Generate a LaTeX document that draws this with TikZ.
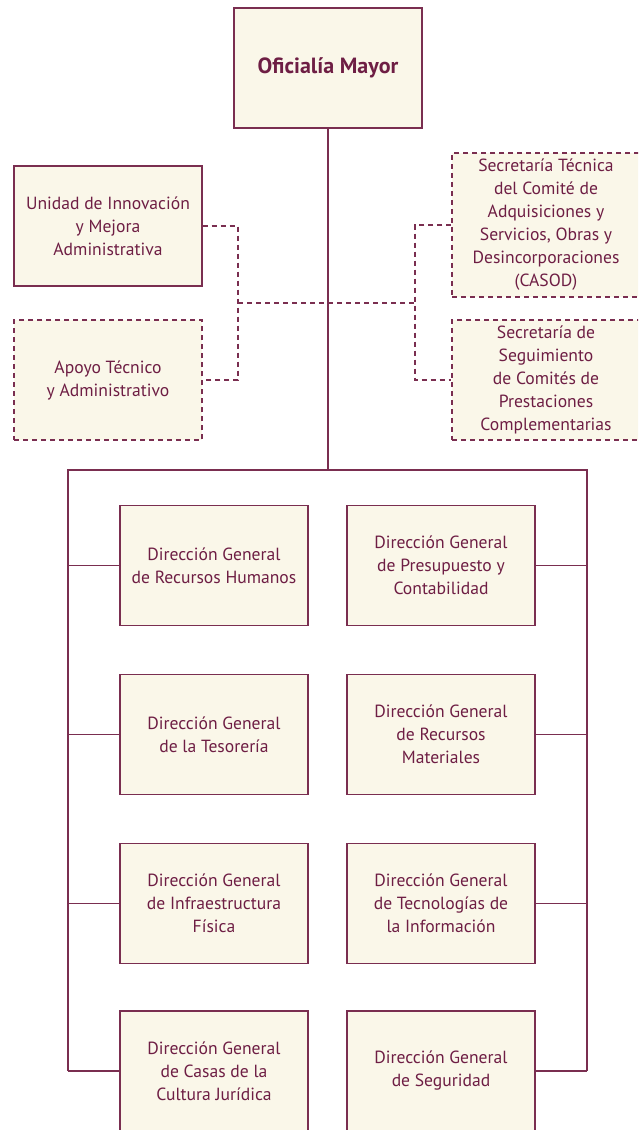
\documentclass[tikz,border=0pt]{standalone}
\usepackage{fontspec}
\setmainfont{PT Sans}
\definecolor{ink}{HTML}{6E1E44}
\definecolor{edge}{HTML}{7A2E50}
\definecolor{cream}{HTML}{FAF7E9}
\tikzset{
  unit/.style={draw=edge, line width=1.3pt, fill=cream, rectangle, minimum width=188pt, minimum height=120pt, text=ink, align=center, font=\fontsize{17.6}{23}\selectfont, inner sep=0pt},
  dunit/.style={unit, dash pattern=on 5pt off 4pt},
  link/.style={draw=edge, line width=1.2pt},
  dlink/.style={link, dash pattern=on 5pt off 4pt},
}
\begin{document}
\begin{tikzpicture}[x=1pt,y=-1pt]
\useasboundingbox (0,0) rectangle (638,1130);
\clip (0,0) rectangle (638,1130);
\node[unit, font=\fontsize{22}{26}\bfseries\selectfont] (om) at (328,68) {Oficialía Mayor};
\node[unit] (uima) at (108,226) {Unidad de Innovación\\y Mejora\\Administrativa};
\node[dunit] (ata) at (108,380) {Apoyo Técnico\\y Administrativo};
\node[dunit, minimum height=144pt] (stc) at (546,225) {Secretaría Técnica\\del Comité de\\Adquisiciones y\\Servicios, Obras y\\Desincorporaciones\\(CASOD)};
\node[dunit] (ssc) at (546,380) {Secretaría de\\Seguimiento\\de Comités de\\Prestaciones\\Complementarias};

\coordinate (dl) at (238,303);
\coordinate (dr) at (415,303);
\coordinate (top) at (328,470);
\coordinate (busL) at (68,470);
\coordinate (busR) at (587,470);

\draw[dlink] (uima.east) -- (uima.east -| dl) -- (ata.east -| dl) -- (ata.east);
\draw[dlink] (stc.west) -- (stc.west -| dr) -- (ssc.west -| dr) -- (ssc.west);
\draw[dlink] (dl) -- (dr);
\draw[link] (om.south) -- (top);

\node[unit] (l1) at (214,565.5) {Dirección General\\de Recursos Humanos};
\node[unit] (r1) at (441,565.5) {Dirección General\\de Presupuesto y\\Contabilidad};
\node[unit] (l2) at (214,734.5) {Dirección General\\de la Tesorería};
\node[unit] (r2) at (441,734.5) {Dirección General\\de Recursos\\Materiales};
\node[unit] (l3) at (214,903.5) {Dirección General\\de Infraestructura\\Física};
\node[unit] (r3) at (441,903.5) {Dirección General\\de Tecnologías de\\la Información};
\node[unit] (l4) at (214,1071) {Dirección General\\de Casas de la\\Cultura Jurídica};
\node[unit] (r4) at (441,1071) {Dirección General\\de Seguridad};

\draw[link] (l4.west -| busL) -- (busL) -- (busR) -- (r4.east -| busR);
\foreach \n in {l1,l2,l3,l4} \draw[link] (\n.west) -- (\n.west -| busL);
\foreach \n in {r1,r2,r3,r4} \draw[link] (\n.east) -- (\n.east -| busR);
\end{tikzpicture}
\end{document}
